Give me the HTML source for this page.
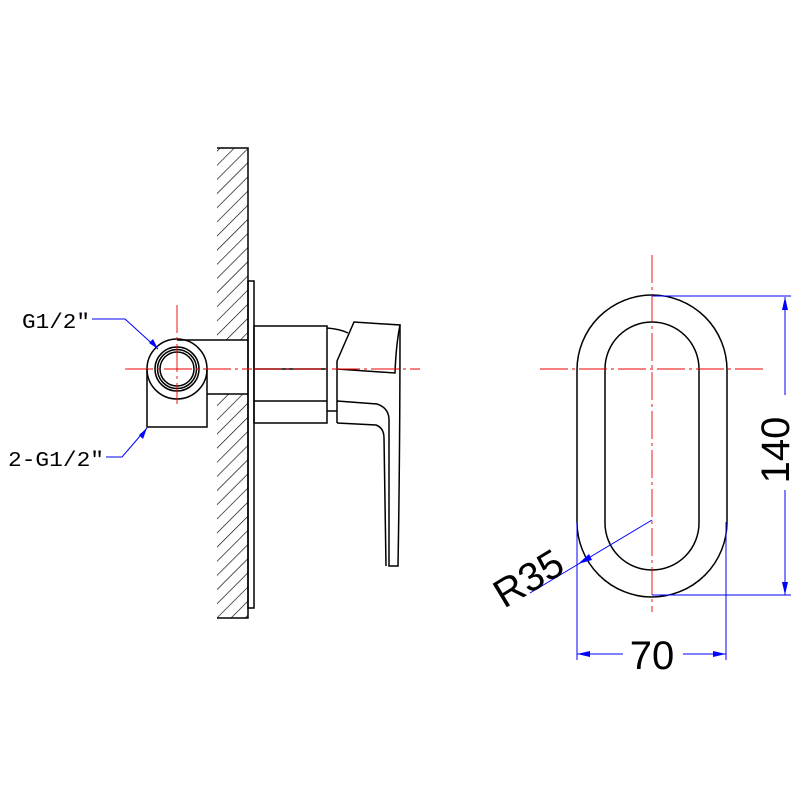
<!DOCTYPE html>
<html><head><style>html,body{margin:0;padding:0;background:#fff}svg{display:block}</style></head><body>
<svg width="800" height="800" viewBox="0 0 800 800" xmlns="http://www.w3.org/2000/svg">
<defs>
<pattern id="h" patternUnits="userSpaceOnUse" width="10" height="10" patternTransform="rotate(45)">
<line x1="0" y1="0" x2="0" y2="10" stroke="#000" stroke-width="1.3"/>
</pattern>
<clipPath id="c"><rect x="217" y="148" width="31" height="192"/><rect x="217" y="394" width="31" height="224"/></clipPath>
</defs>
<rect x="217" y="148" width="31" height="470" fill="url(#h)" clip-path="url(#c)"/>
<g fill="none" stroke="#000" stroke-width="1.5">
<polyline points="217,148 248,148 248,618 217,618"/>
<rect x="248" y="281" width="6" height="327"/>
<line x1="177" y1="340" x2="248" y2="340"/>
<line x1="207" y1="394" x2="248" y2="394"/>
<circle cx="177" cy="369" r="30"/>
<circle cx="177" cy="369" r="22"/>
<circle cx="177" cy="369" r="19.5"/>
<circle cx="177" cy="369" r="17"/>
<polyline points="147,369 147,427 207,427 207,369"/>
<rect x="254" y="326" width="73" height="97"/>
<line x1="254" y1="369" x2="327" y2="369"/>
<line x1="254" y1="401" x2="327" y2="401"/>
<path d="M327,328 Q340,329 348,333"/>
<line x1="327" y1="411" x2="337" y2="411"/>
<line x1="337" y1="361" x2="337" y2="423"/>
<path d="M337,361 L354,322 L400,325 Q396,345 395,373 L337,369"/>
<path d="M337,401 L377,404 Q389,408 389,420 L389,566 L398,566 Q400,450 400,325"/>
<path d="M337,423 L376,425 Q384,428 384,438 L386,566"/>
<path d="M577,370 A75,75 0 0 1 727,370 L727,522 A75,75 0 0 1 577,522 Z"/>
<path d="M605,369 A47,47 0 0 1 699,369 L699,523 A47,47 0 0 1 605,523 Z"/>
</g>
<g stroke="#e00" stroke-width="0.9" stroke-dasharray="28,4,3,4" fill="none">
<line x1="125" y1="369" x2="252" y2="369"/>
<line x1="254" y1="369" x2="420" y2="369"/>
<line x1="177" y1="305" x2="177" y2="404"/>
<line x1="540" y1="369" x2="763" y2="369"/>
<line x1="652" y1="255" x2="652" y2="612"/>
</g>
<g stroke="#00f" stroke-width="1" fill="none">
<polyline points="92,319 125,319 158,349"/>
<polyline points="106,457 122,457 147,428"/>
<line x1="652" y1="296" x2="791" y2="296"/>
<line x1="652" y1="595" x2="791" y2="595"/>
<line x1="785" y1="297" x2="785" y2="395"/>
<line x1="785" y1="490" x2="785" y2="595"/>
<line x1="577" y1="522" x2="577" y2="660"/>
<line x1="726" y1="522" x2="726" y2="660"/>
<line x1="577" y1="654" x2="623" y2="654"/>
<line x1="683" y1="654" x2="726" y2="654"/>
<line x1="652" y1="520" x2="530" y2="593"/>
</g>
<g fill="#00f">
<polygon points="785,297 782,310 788,310"/>
<polygon points="785,595 782,582 788,582"/>
<polygon points="577,654 590,651 590,657"/>
<polygon points="726,654 713,651 713,657"/>
<polygon points="158,349 149,343 153,339"/>
<polygon points="147,428 143,439 139,435"/>
<polygon points="578,564 589,554 592,560"/>
</g>
<g font-family="Liberation Mono, monospace" fill="#000">
<text x="22" y="328" font-size="21" textLength="68" lengthAdjust="spacingAndGlyphs">G1/2″</text>
<text x="8" y="466" font-size="21" textLength="96" lengthAdjust="spacingAndGlyphs">2-G1/2″</text>
</g>
<g font-family="Liberation Sans, sans-serif" fill="#000">
<text x="652" y="669" font-size="40" text-anchor="middle">70</text>
<text transform="translate(789,450) rotate(-90)" font-size="40" text-anchor="middle">140</text>
<text transform="translate(504,609) rotate(-31)" font-size="40">R35</text>
</g>
</svg>
</body></html>
